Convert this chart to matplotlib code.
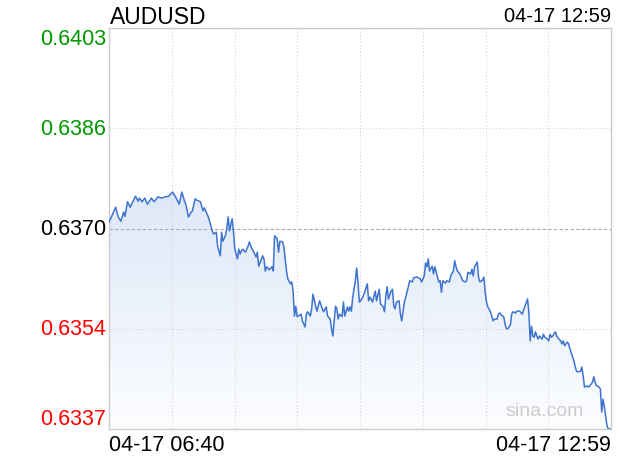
import numpy as np
import matplotlib
matplotlib.use("Agg")
import matplotlib.pyplot as plt
from matplotlib.colors import LinearSegmentedColormap

plt.rcParams['font.family'] = ['Liberation Sans', 'DejaVu Sans']

symbol = "AUDUSD"
start_label = "04-17 06:40"
end_label = "04-17 12:59"
prev_close = 0.63702
y_low = 0.63372
y_high = 0.64032
ytick_labels = ["0.6337", "0.6354", "0.6370", "0.6386", "0.6403"]
ytick_colors = ["#ff0000", "#ff0000", "#000000", "#009900", "#009900"]

# minutes after 06:40
minutes = [0, 2, 5, 7, 9, 11, 12, 14, 16, 17, 20, 22, 23, 25, 27, 29, 32, 34, 37, 40,
           42, 45, 48, 50, 51, 53, 55, 57, 58, 60, 62, 63, 65, 66, 69, 71, 72, 74, 75, 78,
           79, 81, 82, 84, 85, 86, 88, 89, 90, 91, 93, 94, 95, 97, 98, 99, 100, 101, 103, 105,
           106, 108, 109, 111, 112, 113, 116, 117, 118, 119, 121, 123, 124, 125, 127, 128, 129, 131, 132, 133,
           134, 135, 137, 138, 139, 140, 141, 142, 143, 145, 146, 148, 149, 150, 152, 153, 154, 156, 157, 159,
           161, 162, 164, 165, 167, 168, 169, 171, 172, 173, 174, 176, 177, 178, 180, 181, 182, 183, 184, 186,
           187, 188, 189, 190, 192, 193, 195, 196, 197, 199, 200, 201, 202, 204, 205, 207, 208, 209, 210, 211,
           213, 214, 215, 216, 217, 219, 220, 221, 223, 224, 226, 227, 229, 230, 232, 233, 235, 236, 238, 239,
           240, 241, 242, 244, 245, 246, 248, 249, 250, 251, 252, 254, 255, 257, 258, 260, 261, 262, 263, 265,
           267, 269, 270, 271, 273, 274, 275, 276, 278, 279, 280, 282, 283, 284, 285, 286, 288, 289, 290, 291,
           293, 294, 295, 297, 298, 299, 300, 301, 303, 304, 305, 307, 308, 310, 312, 313, 314, 316, 317, 318,
           319, 320, 321, 322, 323, 324, 325, 327, 328, 329, 331, 332, 333, 334, 335, 337, 338, 339, 341, 342,
           343, 344, 346, 347, 348, 350, 351, 352, 353, 354, 356, 357, 358, 359, 361, 362, 363, 365, 366, 367,
           368, 369, 371, 372, 373, 374, 375, 376, 377, 379]

prices = [0.63713, 0.63722, 0.63737, 0.63721, 0.63714, 0.63729, 0.63722, 0.63746, 0.63737, 0.63742,
          0.63755, 0.63747, 0.63752, 0.63746, 0.63752, 0.63742, 0.63752, 0.63746, 0.63754, 0.63752,
          0.63754, 0.63755, 0.63762, 0.63755, 0.63751, 0.63742, 0.63762, 0.63747, 0.63742, 0.63721,
          0.63729, 0.63731, 0.63751, 0.63749, 0.63746, 0.63731, 0.63736, 0.63726, 0.63721, 0.63698,
          0.63693, 0.63696, 0.63673, 0.63657, 0.63696, 0.63681, 0.63691, 0.63704, 0.63721, 0.63698,
          0.63718, 0.63696, 0.63668, 0.63652, 0.63668, 0.63660, 0.63665, 0.63668, 0.63663, 0.63673,
          0.63680, 0.63668, 0.63665, 0.63655, 0.63663, 0.63640, 0.63657, 0.63652, 0.63632, 0.63639,
          0.63634, 0.63639, 0.63632, 0.63690, 0.63685, 0.63663, 0.63681, 0.63680, 0.63672, 0.63652,
          0.63632, 0.63619, 0.63611, 0.63614, 0.63599, 0.63558, 0.63574, 0.63557, 0.63558, 0.63561,
          0.63550, 0.63540, 0.63561, 0.63565, 0.63558, 0.63570, 0.63594, 0.63574, 0.63566, 0.63583,
          0.63570, 0.63565, 0.63573, 0.63558, 0.63553, 0.63537, 0.63525, 0.63574, 0.63570, 0.63553,
          0.63561, 0.63557, 0.63581, 0.63558, 0.63573, 0.63566, 0.63573, 0.63566, 0.63589, 0.63616,
          0.63637, 0.63614, 0.63581, 0.63583, 0.63591, 0.63597, 0.63611, 0.63583, 0.63589, 0.63581,
          0.63591, 0.63599, 0.63583, 0.63602, 0.63578, 0.63573, 0.63565, 0.63591, 0.63606, 0.63586,
          0.63599, 0.63602, 0.63574, 0.63570, 0.63581, 0.63583, 0.63561, 0.63550, 0.63581, 0.63589,
          0.63606, 0.63616, 0.63614, 0.63621, 0.63622, 0.63622, 0.63619, 0.63614, 0.63624, 0.63645,
          0.63639, 0.63652, 0.63632, 0.63640, 0.63627, 0.63639, 0.63622, 0.63614, 0.63616, 0.63597,
          0.63616, 0.63612, 0.63616, 0.63614, 0.63624, 0.63632, 0.63649, 0.63639, 0.63632, 0.63627,
          0.63616, 0.63614, 0.63616, 0.63630, 0.63627, 0.63635, 0.63624, 0.63639, 0.63647, 0.63622,
          0.63614, 0.63617, 0.63622, 0.63597, 0.63581, 0.63573, 0.63565, 0.63557, 0.63550, 0.63553,
          0.63553, 0.63561, 0.63563, 0.63558, 0.63557, 0.63545, 0.63537, 0.63537, 0.63543, 0.63561,
          0.63565, 0.63563, 0.63566, 0.63566, 0.63561, 0.63568, 0.63574, 0.63586, 0.63563, 0.63517,
          0.63541, 0.63525, 0.63523, 0.63532, 0.63525, 0.63520, 0.63525, 0.63520, 0.63528, 0.63523,
          0.63520, 0.63517, 0.63528, 0.63523, 0.63525, 0.63532, 0.63525, 0.63522, 0.63517, 0.63512,
          0.63517, 0.63509, 0.63515, 0.63512, 0.63504, 0.63491, 0.63484, 0.63474, 0.63467, 0.63466,
          0.63467, 0.63474, 0.63459, 0.63441, 0.63443, 0.63441, 0.63443, 0.63449, 0.63458, 0.63449,
          0.63443, 0.63443, 0.63438, 0.63400, 0.63421, 0.63408, 0.63393, 0.63377, 0.63372, 0.63372]

total_minutes = 379

fig = plt.figure(figsize=(6.2, 4.6), dpi=100)
ax = fig.add_axes([109/620, 1-430/460, 502/620, 401/460])

# gradient fill under the line
fill = ax.fill_between(minutes, prices, y_low, color='none', lw=0)
cmap = LinearSegmentedColormap.from_list('g', ['#fcfdff', '#dde8f8'])
grad = np.linspace(0, 1, 256).reshape(-1, 1)
im = ax.imshow(grad, cmap=cmap, origin='lower', aspect='auto',
               extent=[0, total_minutes, y_low, max(prices)], zorder=1)
im.set_clip_path(fill.get_paths()[0], transform=ax.transData)

ax.plot(minutes, prices, color='#3e74cf', lw=1.1, zorder=3)

ax.set_xlim(0, total_minutes)
ax.set_ylim(y_low, y_high)

# grid
for xv in np.linspace(0, total_minutes, 9)[1:-1]:
    ax.axvline(xv, color='#d4d4d4', lw=0.8, ls=(0, (1, 2)), zorder=2)
yticks = np.linspace(y_low, y_high, 5)
for yv in yticks[1:-1]:
    if abs(yv - prev_close) < 1e-6:
        ax.axhline(yv, color='#aaaaaa', lw=0.8, ls=(0, (3, 2)), zorder=2)
    else:
        ax.axhline(yv, color='#d4d4d4', lw=0.8, ls=(0, (1, 2)), zorder=2)

ax.set_xticks([])
ax.set_yticks([])
for s in ax.spines.values():
    s.set_color('#cccccc')
    s.set_linewidth(1.0)

# y labels
trans = ax.get_yaxis_transform()
for i, (yv, lab, col) in enumerate(zip(yticks, ytick_labels, ytick_colors)):
    va = 'center'
    if i == 0:
        va = 'bottom'
    elif i == len(yticks) - 1:
        va = 'top'
    ax.text(-0.006, yv, lab, transform=trans, ha='right', va=va, color=col, fontsize=15.5)

ax.text(0, -0.012, start_label, transform=ax.transAxes, ha='left', va='top', fontsize=15.5, color='#000000')
ax.text(1, -0.012, end_label, transform=ax.transAxes, ha='right', va='top', fontsize=15.5, color='#000000')

fig.text(110/620, 1-17/460, symbol, ha='left', va='center', fontsize=16.5, color='#000000')
fig.text(611/620, 1-17/460, end_label, ha='right', va='center', fontsize=14.5, color='#000000')

ax.text(0.945, 0.045, "sina.com", transform=ax.transAxes, ha='right', va='center',
        fontsize=14, color='#cccccc', zorder=4)

fig.savefig("out.png", dpi=100)
